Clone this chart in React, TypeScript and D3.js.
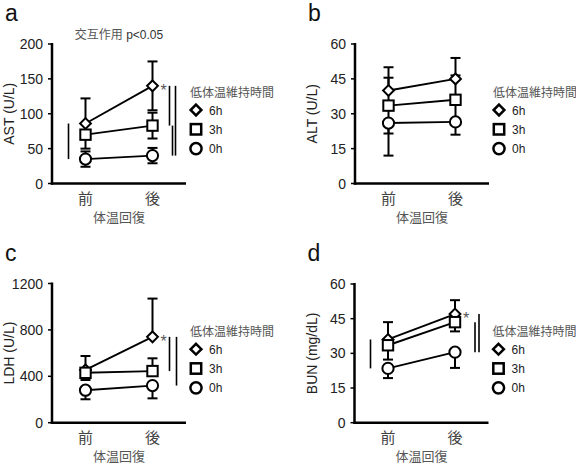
import React, { useRef, useEffect } from "react";
import * as d3 from "d3";

const times = ["前", "後"];
const groups = ["6h", "3h", "0h"];
const shapes = ["diamond", "square", "circle"];

// mean / SD per group (rows: 6h, 3h, 0h; cols: 前, 後)
const astMean = [[86, 140], [70, 83], [35, 40]];
const astSd = [[36, 35], [20, 18.5], [11, 11]];
const astDir = [["up", "both"], ["down", "both"], ["both", "both"]];

const altMean = [[40, 45], [33.5, 36], [26, 26.5]];
const altSd = [[10, 9], [12, 10.5], [14, 5.5]];
const altDir = [["up", "up"], ["both", "both"], ["down", "down"]];

const ldhMean = [[455, 740], [430, 445], [280, 320]];
const ldhSd = [[120, 330], [62, 110], [78, 110]];
const ldhDir = [["up", "up"], ["down", "up"], ["down", "down"]];

const bunMean = [[36, 47], [33.5, 43.5], [23.5, 30.5]];
const bunSd = [[7.5, 6], [6.2, 4], [4.2, 6.8]];
const bunDir = [["up", "up"], ["down", "down"], ["down", "down"]];

// significance bars: [time index, from group, to group, x offset]
const astBrackets = [[0, 0, 2, -17], [1, 0, 1, 17], [1, 1, 2, 20], [1, 0, 2, 23]];
const altBrackets: number[][] = [];
const ldhBrackets = [[1, 0, 1, 17], [1, 0, 2, 24]];
const bunBrackets = [[0, 0, 2, -17.5], [1, 1, 2, 20], [1, 0, 2, 24]];

// asterisks: [time index, group]
const astStars = [[1, 0]];
const altStars: number[][] = [];
const ldhStars = [[1, 0]];
const bunStars = [[1, 0]];

const panels = [
  { letter: "a", x: 52, top: 44, bottom: 183.5, max: 200, ticks: [0, 50, 100, 150, 200], label: "AST (U/L)", title: true, mean: astMean, sd: astSd, dir: astDir, brackets: astBrackets, stars: astStars },
  { letter: "b", x: 355, top: 44, bottom: 183.5, max: 60, ticks: [0, 15, 30, 45, 60], label: "ALT (U/L)", title: false, mean: altMean, sd: altSd, dir: altDir, brackets: altBrackets, stars: altStars },
  { letter: "c", x: 52, top: 283.5, bottom: 422.7, max: 1200, ticks: [0, 400, 800, 1200], label: "LDH (U/L)", title: false, mean: ldhMean, sd: ldhSd, dir: ldhDir, brackets: ldhBrackets, stars: ldhStars },
  { letter: "d", x: 354.5, top: 284, bottom: 422.7, max: 60, ticks: [0, 15, 30, 45, 60], label: "BUN (mg/dL)", title: false, mean: bunMean, sd: bunSd, dir: bunDir, brackets: bunBrackets, stars: bunStars },
];

const FONT = "'Liberation Sans', Arial, 'Noto Sans CJK JP', sans-serif";

function drawMarker(g: any, shape: string, cx: number, cy: number, sw: number) {
  if (shape === "diamond") {
    const r = 5.4;
    g.append("path")
      .attr("d", `M${cx},${cy - r}L${cx + r},${cy}L${cx},${cy + r}L${cx - r},${cy}Z`)
      .attr("fill", "white").attr("stroke", "black").attr("stroke-width", sw);
  } else if (shape === "square") {
    const r = 5.2;
    g.append("rect")
      .attr("x", cx - r).attr("y", cy - r).attr("width", 2 * r).attr("height", 2 * r)
      .attr("fill", "white").attr("stroke", "black").attr("stroke-width", sw);
  } else {
    g.append("circle")
      .attr("cx", cx).attr("cy", cy).attr("r", 5.6)
      .attr("fill", "white").attr("stroke", "black").attr("stroke-width", sw);
  }
}

export default function App() {
  const svgRef = useRef<SVGSVGElement>(null);

  useEffect(() => {
    const svg = d3.select(svgRef.current);
    svg.selectAll("*").remove();

    panels.forEach((p) => {
      const g = svg.append("g").attr("font-family", FONT);
      const right = p.x + 134;
      const xScale = d3.scalePoint().domain(times).range([p.x, right]).padding(0.5);
      const yScale = d3.scaleLinear().domain([0, p.max]).range([p.bottom, p.top]);
      const midX = (p.x + right) / 2;

      // panel letter
      g.append("text").attr("x", p.x - 47).attr("y", p.top - 23)
        .attr("font-size", 23).attr("fill", "#111").text(p.letter);

      if (p.title) {
        const t = g.append("text").attr("x", midX).attr("y", p.top - 5)
          .attr("text-anchor", "middle").attr("font-size", 12);
        t.append("tspan").attr("fill", "#555").text("交互作用 ");
        t.append("tspan").attr("fill", "#333").text("p<0.05");
      }

      // y axis
      p.ticks.forEach((v) => {
        const y = yScale(v);
        g.append("line").attr("x1", p.x - 4).attr("x2", p.x).attr("y1", y).attr("y2", y)
          .attr("stroke", "black").attr("stroke-width", 1.5);
        g.append("text").attr("x", p.x - 9).attr("y", y + 5)
          .attr("text-anchor", "end").attr("font-size", 14).attr("fill", "#222")
          .text(String(v));
      });
      g.append("line").attr("x1", p.x).attr("x2", p.x)
        .attr("y1", yScale(p.max) - 1).attr("y2", p.bottom + 1.2)
        .attr("stroke", "black").attr("stroke-width", 2.5);
      g.append("line").attr("x1", p.x - 1.2).attr("x2", right)
        .attr("y1", p.bottom).attr("y2", p.bottom)
        .attr("stroke", "black").attr("stroke-width", 2.5);

      g.append("text")
        .attr("transform", `translate(${p.x - 38},${(p.top + p.bottom) / 2}) rotate(-90)`)
        .attr("text-anchor", "middle").attr("font-size", 14).attr("fill", "#222")
        .text(p.label);

      // x axis labels
      times.forEach((t) => {
        g.append("text").attr("x", xScale(t)!).attr("y", p.bottom + 20)
          .attr("text-anchor", "middle").attr("font-size", 15).attr("fill", "#444").text(t);
      });
      g.append("text").attr("x", midX).attr("y", p.bottom + 38.5)
        .attr("text-anchor", "middle").attr("font-size", 13).attr("fill", "#555").text("体温回復");

      // connecting lines
      const line = d3.line<number>()
        .x((_, i) => xScale(times[i])!)
        .y((d) => yScale(d));
      p.mean.forEach((m) => {
        g.append("path").datum(m).attr("d", line).attr("fill", "none")
          .attr("stroke", "black").attr("stroke-width", 1.9);
      });

      // error bars
      p.mean.forEach((m, gi) => {
        m.forEach((v, ti) => {
          const cx = xScale(times[ti])!;
          const d = p.dir[gi][ti];
          const sd = p.sd[gi][ti];
          const ends: number[] = [];
          if (d === "up" || d === "both") ends.push(v + sd);
          if (d === "down" || d === "both") ends.push(v - sd);
          ends.forEach((e) => {
            g.append("line").attr("x1", cx).attr("x2", cx)
              .attr("y1", yScale(v)).attr("y2", yScale(e))
              .attr("stroke", "black").attr("stroke-width", 2);
            g.append("line").attr("x1", cx - 5).attr("x2", cx + 5)
              .attr("y1", yScale(e)).attr("y2", yScale(e))
              .attr("stroke", "black").attr("stroke-width", 2);
          });
        });
      });

      // markers
      p.mean.forEach((m, gi) => {
        m.forEach((v, ti) => {
          drawMarker(g, shapes[gi], xScale(times[ti])!, yScale(v), 2);
        });
      });

      // significance bars
      p.brackets.forEach(([ti, a, b, dx]) => {
        const bx = xScale(times[ti])! + dx;
        g.append("line").attr("x1", bx).attr("x2", bx)
          .attr("y1", yScale(p.mean[a][ti])).attr("y2", yScale(p.mean[b][ti]))
          .attr("stroke", "black").attr("stroke-width", 1.6);
      });
      p.stars.forEach(([ti, gi]) => {
        g.append("text").attr("x", xScale(times[ti])! + 11).attr("y", yScale(p.mean[gi][ti]) + 10)
          .attr("text-anchor", "middle").attr("font-size", 16).attr("fill", "#555").text("*");
      });

      // legend
      g.append("text").attr("x", p.x + 138).attr("y", p.bottom - 87)
        .attr("font-size", 12).attr("fill", "#555").text("低体温維持時間");
      groups.forEach((name, gi) => {
        const ly = p.bottom - 73.5 + gi * 19.3;
        drawMarker(g, shapes[gi], p.x + 144, ly, 2.5);
        g.append("text").attr("x", p.x + 157).attr("y", ly + 4.5)
          .attr("font-size", 12).attr("fill", "#222").text(name);
      });
    });
  }, []);

  return (
    <svg
      ref={svgRef}
      width={576}
      height={465}
      style={{ position: "absolute", left: 0, top: 0, background: "white" }}
    />
  );
}
